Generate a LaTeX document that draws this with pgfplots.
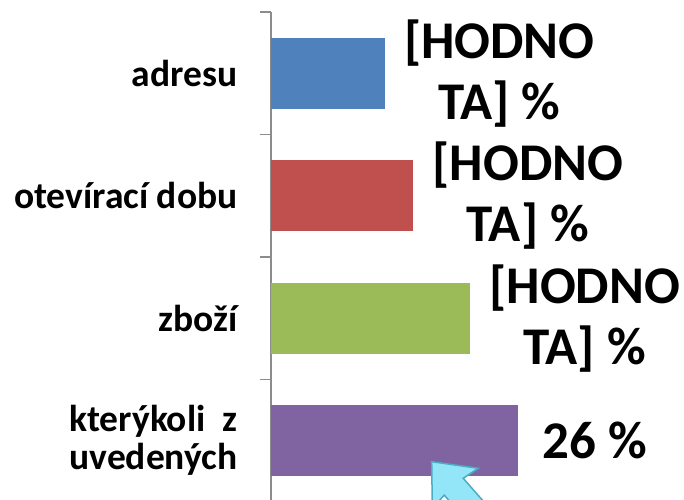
\documentclass[border=0pt]{standalone}
\usepackage{fontspec}
\setmainfont{Carlito}
\usepackage{pgfplots}
\pgfplotsset{compat=1.18}

\definecolor{cblue}{HTML}{4F81BD}
\definecolor{cred}{HTML}{C0504D}
\definecolor{cgreen}{HTML}{9BBB59}
\definecolor{cpurple}{HTML}{8064A2}
\definecolor{axgray}{HTML}{8C8C8C}
\definecolor{arrfill}{HTML}{93E6F8}
\definecolor{arrline}{HTML}{4BACC6}

\begin{document}
\begin{tikzpicture}
\path[use as bounding box] (0,0) rectangle (684pt,499pt);
\clip (0,0) rectangle (684pt,499pt);
\begin{axis}[
  at={(271pt,-3pt)}, anchor=south west,
  scale only axis, width=408pt, height=490pt,
  xbar, bar width=71pt, bar shift=0pt,
  xmin=0, xmax=43, ymin=-0.5, ymax=3.5,
  axis x line=none, axis y line*=left,
  y axis line style={draw=axgray, line width=1.5pt, -},
  ytick={0,1,2,3},
  yticklabels={{kterýkoli\ \ z\\uvedených},zboží,{otevírací dobu},adresu},
  major tick length=0pt,
  minor ytick={-0.5,0.5,1.5,2.5,3.5},
  minor tick length=11pt, tick align=outside,
  minor tick style={draw=axgray, line width=1.5pt},
  yticklabel style={font=\bfseries\fontsize{37.5}{38}\selectfont, align=center, xshift=-30pt},
  every node near coord/.append style={font=\bfseries\fontsize{53}{61}\selectfont,
    align=center, anchor=west, inner xsep=19pt, text=black},
]
\addplot[fill=cblue, draw=none, nodes near coords={{}[HODNO\\TA]~\%}] coordinates {(12,3)};
\addplot[fill=cred, draw=none, nodes near coords={{}[HODNO\\TA]~\%}] coordinates {(15,2)};
\addplot[fill=cgreen, draw=none, nodes near coords={{}[HODNO\\TA]~\%}] coordinates {(21,1)};
\addplot[fill=cpurple, draw=none, nodes near coords={26~\%},
  every node near coord/.append style={xshift=6pt}] coordinates {(26,0)};
\end{axis}
% callout arrow pointing at the last bar
\filldraw[fill=arrfill, draw=arrline, line width=1.5pt, line join=miter]
  (431.7pt,37.3pt) -- (478.2pt,30.7pt) -- (463.2pt,20.7pt) -- (529.2pt,-54.3pt)
  -- (510.2pt,-71.1pt) -- (444.2pt,3.9pt) -- (432.3pt,-9.7pt) -- cycle;
\end{tikzpicture}
\end{document}
